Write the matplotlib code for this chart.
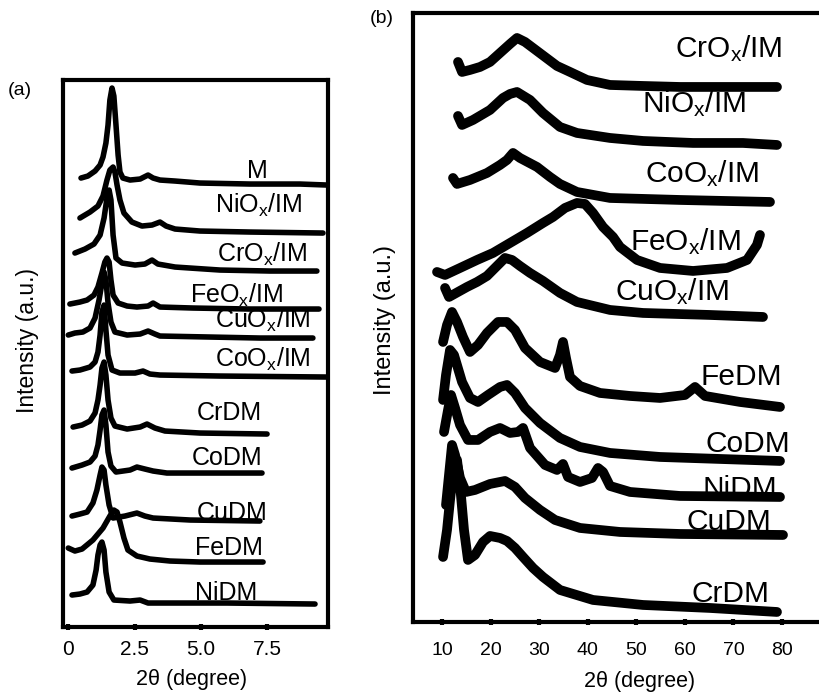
import numpy as np
import matplotlib
matplotlib.use('Agg')
import matplotlib.pyplot as plt

plt.rcParams['font.family'] = ['Liberation Sans', 'DejaVu Sans']
plt.rcParams['mathtext.default'] = 'regular'

# ---- panel (a): low-angle XRD, 2theta (deg) vs intensity (a.u.) ----
M_x = [0.48, 0.74, 1.01, 1.20, 1.31, 1.42, 1.50, 1.57, 1.65, 1.72, 1.80, 1.88, 1.95, 2.06, 2.33, 2.71, 3.01, 3.20, 3.46, 4.03, 4.97, 6.86, 8.74, 9.76]
M_y = [449, 451, 456, 462, 470, 484, 502, 527, 539, 531, 502, 472, 455, 449, 447, 448, 452, 449, 447, 446, 444, 443, 443, 442]
NiOx_x = [0.44, 0.82, 1.12, 1.31, 1.46, 1.57, 1.69, 1.76, 1.84, 1.95, 2.10, 2.40, 2.78, 3.16, 3.46, 3.69, 4.03, 4.97, 6.86, 9.61]
NiOx_y = [409, 415, 421, 431, 447, 457, 460, 455, 442, 427, 414, 405, 401, 402, 405, 401, 398, 396, 395, 394]
CrOx_x = [0.25, 0.63, 0.97, 1.20, 1.35, 1.46, 1.54, 1.61, 1.69, 1.80, 2.03, 2.52, 2.89, 3.16, 3.38, 4.03, 5.72, 7.61, 9.38]
CrOx_y = [374, 378, 383, 392, 409, 429, 437, 427, 392, 369, 364, 362, 363, 367, 363, 360, 357, 356, 356]
FeOx_x = [0.06, 0.44, 0.71, 0.97, 1.12, 1.27, 1.38, 1.46, 1.54, 1.61, 1.69, 1.88, 2.22, 2.59, 3.01, 3.20, 3.46, 4.71, 6.86, 9.46]
FeOx_y = [323, 325, 327, 332, 340, 354, 365, 369, 365, 347, 332, 324, 321, 320, 321, 324, 320, 319, 318, 318]
CuOx_x = [0.0, 0.25, 0.55, 0.82, 1.01, 1.16, 1.27, 1.35, 1.42, 1.50, 1.61, 1.76, 2.22, 2.71, 3.01, 3.27, 3.46, 5.35, 7.23, 9.23]
CuOx_y = [292, 294, 295, 299, 309, 327, 344, 355, 347, 324, 305, 295, 292, 293, 296, 293, 291, 290, 289, 289]
CoOx_x = [0.14, 0.44, 0.82, 1.01, 1.12, 1.20, 1.27, 1.35, 1.42, 1.50, 1.65, 1.95, 2.52, 2.82, 3.08, 3.46, 5.72, 9.76]
CoOx_y = [256, 257, 260, 265, 275, 292, 315, 322, 297, 272, 257, 254, 254, 256, 253, 252, 251, 250]
CrDM_x = [0.18, 0.52, 0.82, 1.01, 1.12, 1.20, 1.27, 1.35, 1.42, 1.50, 1.61, 1.76, 2.22, 2.71, 2.97, 3.27, 3.65, 4.97, 7.50]
CrDM_y = [200, 202, 206, 214, 227, 242, 259, 265, 252, 227, 209, 201, 198, 200, 203, 199, 196, 194, 193]
CoDM_x = [0.14, 0.52, 0.82, 1.01, 1.12, 1.20, 1.27, 1.35, 1.42, 1.50, 1.61, 1.80, 2.33, 2.59, 2.89, 3.20, 3.72, 4.97, 7.31]
CoDM_y = [159, 162, 165, 171, 182, 197, 212, 217, 202, 175, 161, 155, 157, 160, 158, 156, 154, 154, 154]
CuDM_x = [0.14, 0.44, 0.71, 0.93, 1.08, 1.20, 1.27, 1.35, 1.42, 1.54, 1.69, 2.14, 2.59, 2.89, 3.20, 4.60, 7.23]
CuDM_y = [111, 113, 115, 124, 137, 152, 160, 157, 142, 122, 109, 111, 114, 111, 109, 107, 106]
FeDM_x = [0.0, 0.25, 0.52, 0.93, 1.31, 1.57, 1.72, 1.84, 1.95, 2.10, 2.25, 2.59, 3.08, 3.84, 4.97, 7.35]
FeDM_y = [79, 76, 78, 87, 99, 111, 117, 115, 105, 89, 77, 71, 68, 66, 65, 65]
NiDM_x = [0.14, 0.44, 0.71, 0.93, 1.05, 1.12, 1.20, 1.27, 1.35, 1.42, 1.54, 1.72, 2.33, 2.71, 3.01, 3.46, 5.99, 9.31]
NiDM_y = [32, 33, 35, 42, 57, 72, 82, 85, 77, 55, 35, 27, 26, 27, 24, 24, 24, 23]

a_series = [(M_x, M_y), (NiOx_x, NiOx_y), (CrOx_x, CrOx_y), (FeOx_x, FeOx_y),
            (CuOx_x, CuOx_y), (CoOx_x, CoOx_y), (CrDM_x, CrDM_y), (CoDM_x, CoDM_y),
            (CuDM_x, CuDM_y), (FeDM_x, FeDM_y), (NiDM_x, NiDM_y)]
a_names = ['M', r'NiO$_x$/IM', r'CrO$_x$/IM', r'FeO$_x$/IM', r'CuO$_x$/IM', r'CoO$_x$/IM',
           'CrDM', 'CoDM', 'CuDM', 'FeDM', 'NiDM']
a_lab_x = [6.74, 5.54, 5.61, 4.59, 5.54, 5.54, 4.86, 4.67, 4.86, 4.78, 4.78]
a_lab_y = [449, 414, 365, 324, 299, 260, 207, 162, 107, 72, 27]

# ---- panel (b): wide-angle XRD ----
bCrOx_x = [13.29, 14.12, 15.76, 17.82, 19.88, 21.94, 24.00, 25.44, 27.09, 28.74, 31.21, 33.68, 36.35, 39.85, 44.59, 51.38, 59.00, 71.97, 78.97]
bCrOx_y = [560, 550, 552, 555, 560, 569, 578, 584, 580, 574, 565, 556, 550, 542, 537, 536, 535, 535, 535]
bNiOx_x = [13.29, 14.12, 16.38, 19.88, 22.56, 24.00, 25.44, 28.12, 30.79, 34.29, 37.79, 44.59, 51.38, 61.68, 71.97, 78.97]
bNiOx_y = [506, 497, 502, 512, 524, 528, 530, 522, 509, 495, 489, 484, 481, 479, 479, 477]
bCoOx_x = [12.26, 13.09, 15.76, 19.26, 21.94, 23.38, 24.62, 26.06, 29.56, 32.24, 34.29, 37.79, 44.59, 59.00, 77.53]
bCoOx_y = [444, 438, 442, 449, 457, 462, 469, 464, 455, 445, 438, 430, 424, 422, 420]
bFeOx_x = [8.97, 10.62, 13.71, 17.21, 20.50, 24.00, 27.50, 30.79, 32.85, 35.32, 37.79, 39.44, 41.09, 43.15, 45.21, 46.65, 50.15, 54.89, 61.68, 68.68, 72.80, 74.85, 75.47]
bFeOx_y = [350, 347, 354, 362, 369, 379, 389, 399, 405, 414, 419, 418, 409, 395, 385, 375, 362, 354, 351, 354, 362, 377, 387]
bCuOx_x = [10.62, 11.44, 13.29, 15.15, 17.21, 19.26, 21.32, 22.97, 24.41, 26.06, 28.12, 30.79, 34.29, 37.79, 44.59, 51.38, 65.18, 76.09]
bCuOx_y = [334, 325, 330, 335, 340, 346, 356, 364, 362, 356, 349, 341, 329, 320, 312, 309, 307, 305]
bFeDM_x = [10.21, 11.03, 12.06, 13.09, 14.32, 15.76, 17.41, 19.26, 21.53, 23.38, 25.03, 27.09, 30.18, 33.27, 34.29, 34.91, 35.53, 36.35, 38.41, 42.53, 48.71, 54.89, 60.03, 62.09, 64.15, 71.36, 79.59]
bFeDM_y = [280, 297, 310, 300, 285, 270, 277, 289, 300, 300, 292, 274, 260, 254, 267, 280, 264, 245, 236, 229, 226, 224, 227, 235, 226, 220, 215]
bCoDM_x = [10.21, 10.82, 11.65, 12.47, 14.12, 15.76, 17.41, 19.47, 21.94, 23.38, 25.03, 27.09, 30.18, 34.29, 38.41, 44.59, 54.89, 67.24, 79.59]
bCoDM_y = [222, 247, 272, 267, 240, 224, 220, 227, 235, 237, 229, 214, 199, 184, 175, 169, 165, 163, 161]
bNiDM_x = [10.41, 11.24, 11.85, 12.68, 13.71, 15.35, 17.41, 19.88, 21.94, 24.00, 25.65, 26.68, 28.12, 31.21, 33.68, 34.91, 35.94, 38.41, 40.88, 42.12, 43.15, 44.59, 48.71, 59.00, 79.59]
bNiDM_y = [190, 212, 227, 214, 197, 182, 182, 190, 194, 189, 190, 194, 174, 157, 152, 158, 145, 140, 144, 154, 150, 136, 130, 126, 125]
bCuDM_x = [10.82, 11.44, 12.06, 12.68, 13.71, 14.94, 16.79, 19.88, 22.97, 25.03, 27.09, 30.18, 33.27, 38.41, 46.65, 59.00, 80.21]
bCuDM_y = [117, 147, 177, 167, 144, 130, 132, 138, 141, 135, 124, 112, 102, 94, 90, 88, 87]
bCrDM_x = [10.21, 11.03, 11.65, 12.47, 13.09, 13.71, 14.53, 15.35, 16.79, 18.44, 19.88, 21.94, 23.38, 25.03, 26.68, 28.74, 30.79, 34.29, 41.09, 51.38, 65.18, 78.97]
bCrDM_y = [65, 92, 122, 157, 162, 137, 92, 62, 67, 80, 86, 84, 81, 74, 65, 54, 45, 32, 22, 17, 14, 10]

b_series = [(bCrOx_x, bCrOx_y), (bNiOx_x, bNiOx_y), (bCoOx_x, bCoOx_y), (bFeOx_x, bFeOx_y),
            (bCuOx_x, bCuOx_y), (bFeDM_x, bFeDM_y), (bCoDM_x, bCoDM_y), (bNiDM_x, bNiDM_y),
            (bCuDM_x, bCuDM_y), (bCrDM_x, bCrDM_y)]
b_names = [r'CrO$_x$/IM', r'NiO$_x$/IM', r'CoO$_x$/IM', r'FeO$_x$/IM', r'CuO$_x$/IM',
           'FeDM', 'CoDM', 'NiDM', 'CuDM', 'CrDM']
b_lab_x = [57.97, 51.18, 51.80, 48.71, 45.62, 63.12, 64.15, 63.53, 60.44, 61.47]
b_lab_y = [565, 510, 440, 372, 322, 237, 170, 125, 92, 20]

fig = plt.figure(figsize=(8.19, 6.93), dpi=100)

# panel a
axa = fig.add_axes([0.0769, 0.0952, 0.3236, 0.7893])
for xx, yy in a_series:
    axa.plot(xx, yy, color='k', lw=4, solid_joinstyle='round', solid_capstyle='round')
for nm, lx, ly in zip(a_names, a_lab_x, a_lab_y):
    axa.text(lx, ly, nm, fontsize=18, va='baseline', ha='left')
axa.set_xlim(-0.2, 9.8)
axa.set_ylim(0, 547)
axa.set_xticks([0, 2.5, 5.0, 7.5])
axa.set_xticklabels(['0', '2.5', '5.0', '7.5'])
axa.set_yticks([])
axa.tick_params(axis='x', direction='inout', length=5, width=3, labelsize=15, pad=7)
for sp in axa.spines.values():
    sp.set_linewidth(3)

# panel b
axb = fig.add_axes([0.5043, 0.1025, 0.4957, 0.8788])
for xx, yy in b_series:
    axb.plot(xx, yy, color='k', lw=7, solid_joinstyle='round', solid_capstyle='round')
for nm, lx, ly in zip(b_names, b_lab_x, b_lab_y):
    axb.text(lx, ly, nm, fontsize=21.5, va='baseline', ha='left')
axb.set_xlim(4.03, 87.62)
axb.set_ylim(0, 609)
axb.set_xticks(range(10, 90, 10))
axb.set_yticks([])
axb.tick_params(axis='x', direction='inout', length=5, width=3, labelsize=14, pad=12)
axb.spines['right'].set_visible(False)
for s in ['left', 'top', 'bottom']:
    axb.spines[s].set_linewidth(3)

fig.text(0.033, 0.509, 'Intensity (a.u.)', rotation=90, fontsize=16.5, ha='center', va='center')
fig.text(0.470, 0.538, 'Intensity (a.u.)', rotation=90, fontsize=17, ha='center', va='center')
fig.text(0.2344, 0.0188, '2\u03b8 (degree)', fontsize=15.5, ha='center', va='center')
fig.text(0.7814, 0.0159, '2\u03b8 (degree)', fontsize=15.5, ha='center', va='center')
fig.text(0.0244, 0.870, '(a)', fontsize=14, ha='center', va='center')
fig.text(0.4664, 0.9726, '(b)', fontsize=14, ha='center', va='center')

fig.savefig('out.png', dpi=100)
